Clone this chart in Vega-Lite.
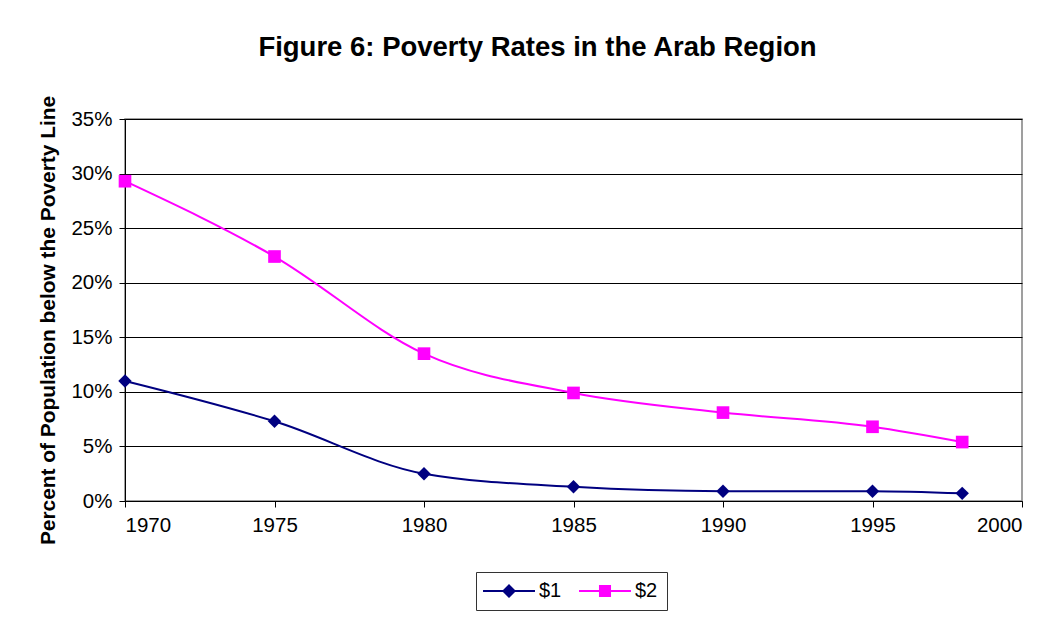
{
  "$schema": "https://vega.github.io/schema/vega-lite/v6.json",
  "width": 897,
  "height": 382,
  "autosize": {"type": "none"},
  "padding": {"left": 125, "top": 119, "right": 39, "bottom": 119},
  "background": "white",
  "title": {
    "text": "Figure 6: Poverty Rates in the Arab Region",
    "anchor": "middle",
    "dx": -36,
    "offset": 34,
    "font": "Liberation Sans",
    "fontSize": 27.5,
    "fontWeight": "bold",
    "color": "black"
  },
  "data": {
    "values": [
      {"year": 1970, "series": "$1", "rate": 0.110},
      {"year": 1975, "series": "$1", "rate": 0.073},
      {"year": 1980, "series": "$1", "rate": 0.025},
      {"year": 1985, "series": "$1", "rate": 0.013},
      {"year": 1990, "series": "$1", "rate": 0.009},
      {"year": 1995, "series": "$1", "rate": 0.009},
      {"year": 1998, "series": "$1", "rate": 0.007},
      {"year": 1970, "series": "$2", "rate": 0.293},
      {"year": 1975, "series": "$2", "rate": 0.224},
      {"year": 1980, "series": "$2", "rate": 0.135},
      {"year": 1985, "series": "$2", "rate": 0.099},
      {"year": 1990, "series": "$2", "rate": 0.081},
      {"year": 1995, "series": "$2", "rate": 0.068},
      {"year": 1998, "series": "$2", "rate": 0.054}
    ]
  },
  "encoding": {
    "x": {
      "field": "year", "type": "quantitative",
      "scale": {"domain": [1970, 2000], "nice": false, "zero": false},
      "axis": {"values": [1970, 1975, 1980, 1985, 1990, 1995, 2000], "format": "d", "title": null, "grid": false, "labelFontSize": 20.5, "labelPadding": 8, "tickSize": 6, "tickColor": "black", "domainColor": "black", "labelColor": "black", "labelFont": "Liberation Sans"}
    },
    "y": {
      "field": "rate", "type": "quantitative",
      "scale": {"domain": [0, 0.35], "nice": false},
      "axis": {"values": [0, 0.05, 0.1, 0.15, 0.2, 0.25, 0.3, 0.35], "format": ".0%", "title": "Percent of Population below the Poverty Line", "titleFontSize": 20.9, "titleFontWeight": "bold", "titleFont": "Liberation Sans", "titleColor": "black", "titlePadding": 12, "titleY": 201, "grid": true, "gridColor": "black", "gridWidth": 1, "labelFontSize": 20.5, "labelPadding": 7, "tickSize": 6, "tickColor": "black", "domainColor": "black", "labelColor": "black", "labelFont": "Liberation Sans"}
    }
  },
  "layer": [
    {
      "mark": {"type": "line", "interpolate": "monotone", "strokeWidth": 2},
      "encoding": {
        "color": {
          "field": "series", "type": "nominal",
          "scale": {"domain": ["$1", "$2"], "range": ["#000080", "#FF00FF"]},
          "legend": {
            "title": null, "orient": "none", "legendX": 351, "legendY": 453, "direction": "horizontal",
            "strokeColor": "#333333", "padding": 9, "labelFontSize": 20, "labelFont": "Liberation Sans", "labelColor": "black",
            "symbolSize": 196, "symbolOffset": 14, "labelOffset": 20, "columnPadding": 17, "symbolStrokeWidth": 0,
            "encode": {
              "symbols": {
                "update": {
                  "shape": {"signal": "datum.value === '$1' ? 'M-3.71,-0.14H3.71V0.14H-3.71Z M0,-1L1,0L0,1L-1,0Z' : 'M-3.71,-0.14H3.71V0.14H-3.71Z M-0.86,-0.86H0.86V0.86H-0.86Z'"},
                  "size": {"value": 196},
                  "fill": {"signal": "datum.value === '$1' ? '#000080' : '#FF00FF'"},
                  "stroke": {"value": "transparent"},
                  "strokeWidth": {"value": 0},
                  "opacity": {"value": 1}
                }
              }
            }
          }
        }
      }
    },
    {
      "transform": [{"filter": "datum.series === '$1'"}],
      "mark": {"type": "point", "filled": true, "opacity": 1, "shape": "diamond", "size": 180, "color": "#000080"}
    },
    {
      "transform": [{"filter": "datum.series === '$2'"}],
      "mark": {"type": "point", "filled": true, "opacity": 1, "shape": "square", "size": 160, "color": "#FF00FF"}
    }
  ],
  "config": {
    "view": {"stroke": "#808080", "strokeWidth": 1.5},
    "font": "Liberation Sans"
  }
}
